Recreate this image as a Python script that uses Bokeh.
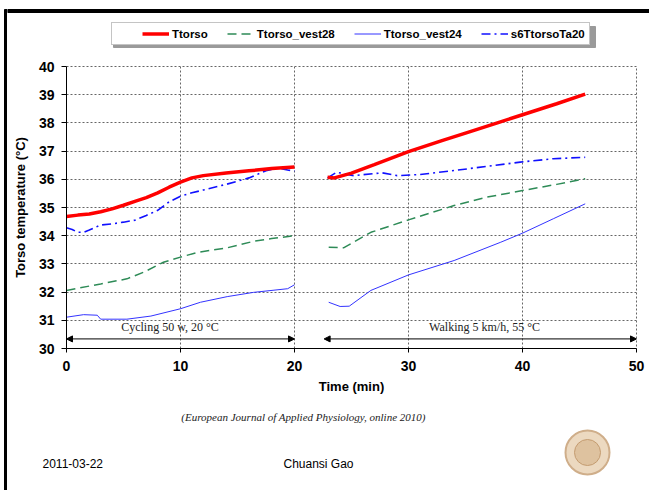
from bokeh.plotting import figure
from bokeh.layouts import row, column
from bokeh.models import (Label, Arrow, NormalHead, Legend, LegendItem,
                          FixedTicker, Range1d)
from bokeh.embed import file_html
from bokeh.resources import INLINE

NaN = float("nan")

# ---- data ----
x_ticks = [0, 10, 20, 30, 40, 50]
y_ticks = [30, 31, 32, 33, 34, 35, 36, 37, 38, 39, 40]

# Ttorso
t_red_c = [0, 1, 2, 3, 4, 5, 6, 7, 8, 9, 10, 11, 12, 14, 16, 18, 20]
v_red_c = [34.68, 34.73, 34.77, 34.85, 34.95, 35.08, 35.22, 35.35, 35.52, 35.72,
           35.9, 36.05, 36.13, 36.22, 36.3, 36.38, 36.44]
t_red_w = [22.9, 23.5, 25, 27, 30, 33, 35, 38, 40, 43, 45.5]
v_red_w = [36.07, 36.05, 36.22, 36.52, 36.98, 37.38, 37.64, 38.03, 38.29, 38.68, 39.02]

# Ttorso_vest28
t_g_c = [0, 3, 5.3, 6.8, 8.5, 10, 11.5, 14.1, 16.4, 18, 20]
v_g_c = [32.06, 32.29, 32.47, 32.71, 33.06, 33.24, 33.41, 33.57, 33.8, 33.9, 34.0]
t_g_w = [23, 24.3, 26.7, 30, 34, 36.9, 40, 43, 45.5]
v_g_w = [33.59, 33.57, 34.12, 34.56, 35.07, 35.37, 35.6, 35.82, 36.02]

# Ttorso_vest24
t_b_c = [0, 1.5, 2.7, 3.0, 5.3, 7.4, 10, 11.75, 14.1, 16.4, 19.4, 20]
v_b_c = [31.11, 31.2, 31.18, 31.04, 31.04, 31.15, 31.41, 31.64, 31.84, 31.99, 32.12, 32.26]
t_b_w = [23.0, 24.0, 24.8, 26.7, 30, 34, 38.1, 40, 42.7, 45.5]
v_b_w = [31.64, 31.49, 31.5, 32.06, 32.61, 33.12, 33.77, 34.09, 34.6, 35.13]

# s6TtorsoTa20
t_s_c = [0, 0.5, 1, 1.5, 2, 3, 4, 5, 6, 7, 8, 9, 10, 11, 12, 14, 16, 17.5, 18.5, 19.5, 20]
v_s_c = [34.28, 34.22, 34.12, 34.12, 34.2, 34.38, 34.42, 34.48, 34.55, 34.72, 34.9,
         35.2, 35.4, 35.52, 35.62, 35.82, 36.05, 36.3, 36.4, 36.32, 36.3]
t_s_w = [22.9, 23.7, 25.2, 27.7, 29, 31, 34, 36.9, 39.8, 42.7, 45.5]
v_s_w = [36.05, 36.25, 36.13, 36.23, 36.13, 36.17, 36.31, 36.46, 36.61, 36.73, 36.78]

series_names = ["Ttorso", "Ttorso_vest28", "Ttorso_vest24", "s6TtorsoTa20"]

cycling_span = [0, 20]
walking_span = [22.6, 50]
phase_y = 30.34
cycling_text = "Cycling 50 w, 20 °C"
walking_text = "Walking 5 km/h, 55 °C"

source_text = "(European Journal of Applied Physiology, online 2010)"
date_text = "2011-03-22"
author_text = "Chuansi Gao"

SANS = "Liberation Sans"
SERIF = "Liberation Serif"

# series styles
styles = {
    "Ttorso": dict(line_color="#ff0000", line_width=3.5),
    "Ttorso_vest28": dict(line_color="#2e8b57", line_width=1.5, line_dash="9 5"),
    "Ttorso_vest24": dict(line_color="#3333ff", line_width=1),
    "s6TtorsoTa20": dict(line_color="#1010ff", line_width=1.6, line_dash="9 4 2 4"),
}
series_data = {
    "Ttorso": (t_red_c, v_red_c, t_red_w, v_red_w),
    "Ttorso_vest28": (t_g_c, v_g_c, t_g_w, v_g_w),
    "Ttorso_vest24": (t_b_c, v_b_c, t_b_w, v_b_w),
    "s6TtorsoTa20": (t_s_c, v_s_c, t_s_w, v_s_w),
}


def joined(a, b):
    return list(a) + [NaN] + list(b)


def deco_figure(w, h, x0, x1, y0, y1):
    f = figure(width=w, height=h, x_range=Range1d(x0, x1), y_range=Range1d(y1, y0),
               x_axis_type=None, y_axis_type=None, output_backend="svg",
               toolbar_location=None, min_border=0, min_border_left=0,
               min_border_right=0, min_border_top=0, min_border_bottom=0,
               frame_align=False)
    f.outline_line_color = None
    f.grid.visible = False
    f.background_fill_color = "white"
    f.border_fill_color = "white"
    return f


# ---- slide frame strip at left (page pixel coordinates) ----
left_strip = deco_figure(7, 490, 0, 7, 0, 490)
left_strip.quad(left=[4], right=[7], top=[9], bottom=[490], color="black")

# ---- header: slide top line + legend ----
header = deco_figure(642, 50, 7, 649, 0, 50)
header.quad(left=[7], right=[649], top=[9], bottom=[12], color="black")
header.quad(left=[113], right=[595], top=[26], bottom=[47], color="#9a9a9a")
legend_renderers = []
for n in series_names:
    tc, vc, tw, vw = series_data[n]
    r = header.line(joined(tc, tw), joined(vc, vw), **styles[n])
    r.visible = False
    legend_renderers.append(r)
legend = Legend(items=[LegendItem(label=n, renderers=[r]) for n, r in
                       zip(series_names, legend_renderers)],
                orientation="horizontal", location=(104, 5),
                title=" ", title_location="left", title_standoff=14,
                title_text_font_size="11px",
                label_text_font=SANS, label_text_font_style="bold",
                label_text_font_size="11.5px", label_text_color="black",
                glyph_width=27, glyph_height=13, label_height=13,
                label_standoff=3, spacing=19, padding=4, margin=0,
                border_line_color="#8a8a8a", border_line_width=1.5,
                background_fill_color="white", background_fill_alpha=1)
header.add_layout(legend, "center")

# ---- main chart ----
p = figure(width=642, height=355, x_range=Range1d(0, 50), y_range=Range1d(30, 40),
           output_backend="svg", toolbar_location=None, frame_align=False,
           min_border_left=59, min_border_right=13, min_border_top=16,
           min_border_bottom=57, background_fill_color="white",
           border_fill_color="white")
p.title.visible = False

p.outline_line_color = "#666666"
p.outline_line_dash = "2 2"
p.outline_line_width = 1

for ax in (p.xaxis, p.yaxis):
    ax.axis_line_color = "black"
    ax.axis_line_width = 1
    ax.major_tick_in = 0
    ax.minor_tick_out = 0
    ax.minor_tick_in = 0
    ax.major_tick_line_color = "black"
    ax.major_label_text_font = SANS
    ax.major_label_text_font_style = "bold"
    ax.major_label_text_font_size = "14px"
    ax.major_label_text_color = "black"
    ax.axis_label_text_font = SANS
    ax.axis_label_text_font_style = "bold"
    ax.axis_label_text_font_size = "13px"
    ax.axis_label_text_color = "black"

p.xaxis.ticker = FixedTicker(ticks=x_ticks)
p.yaxis.ticker = FixedTicker(ticks=y_ticks)
p.xaxis.major_tick_out = 4
p.yaxis.major_tick_out = 5
p.xaxis.major_label_standoff = 8
p.yaxis.major_label_standoff = 7
p.xaxis.axis_label = "Time (min)"
p.yaxis.axis_label = "Torso temperature (°C)"
p.xaxis.axis_label_standoff = 5
p.yaxis.axis_label_standoff = 8

for g in (p.xgrid, p.ygrid):
    g.grid_line_color = "#666666"
    g.grid_line_dash = "2 2"
    g.grid_line_width = 1

for n in ["s6TtorsoTa20", "Ttorso_vest24", "Ttorso_vest28", "Ttorso"]:
    tc, vc, tw, vw = series_data[n]
    p.line(joined(tc, tw), joined(vc, vw), **styles[n])

for span in (cycling_span, walking_span):
    p.add_layout(Arrow(x_start=span[0], y_start=phase_y, x_end=span[1], y_end=phase_y,
                       line_color="black", line_width=1,
                       start=NormalHead(size=6, fill_color="black", line_color="black"),
                       end=NormalHead(size=6, fill_color="black", line_color="black")))
p.add_layout(Label(x=9.08, y=30.76, text=cycling_text, text_font=SERIF,
                   text_font_size="12px", text_align="center", text_baseline="middle",
                   text_color="#222222"))
p.add_layout(Label(x=36.67, y=30.76, text=walking_text, text_font=SERIF,
                   text_font_size="12px", text_align="center", text_baseline="middle",
                   text_color="#222222"))

# ---- footer (page pixel coordinates) ----
footer = deco_figure(642, 85, 7, 649, 405, 490)
footer.add_layout(Label(x=303, y=416, text=source_text, text_font=SERIF,
                        text_font_style="italic", text_font_size="11px",
                        text_align="center", text_baseline="middle",
                        text_color="#222222"))
footer.add_layout(Label(x=42, y=463, text=date_text, text_font=SANS,
                        text_font_size="12px", text_align="left",
                        text_baseline="middle", text_color="black"))
footer.add_layout(Label(x=283, y=463, text=author_text, text_font=SANS,
                        text_font_size="12px", text_align="left",
                        text_baseline="middle", text_color="black"))
footer.scatter([587], [452], size=44, fill_color="#ecd9c0", line_color="#cfae8a",
               line_width=2)
footer.scatter([587], [452], size=26, fill_color="#d9b892", line_color="#c49c70",
               line_width=1, fill_alpha=0.7)

layout = row(left_strip, column(header, p, footer, spacing=0), spacing=0)

open("out.html", "w").write(file_html(layout, INLINE))
